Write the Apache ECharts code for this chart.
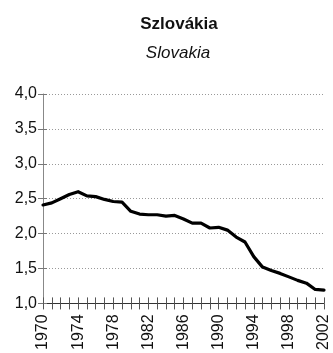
<!DOCTYPE html>
<html>
<head>
<meta charset="utf-8">
<script src="https://cdn.jsdelivr.net/npm/echarts@6/dist/echarts.min.js"></script>
<style>
  html, body { margin: 0; padding: 0; background: #fff; }
  #chart { width: 333px; height: 353px; }
</style>
</head>
<body>
<div id="chart"></div>
<script>
// Total fertility rate, Slovakia, 1970–2002
const years = [];
for (let y = 1970; y <= 2002; y++) years.push(String(y));

const fertility = [
  2.41, 2.44, 2.50, 2.56, 2.60, 2.54, 2.53, 2.49, 2.46, 2.45,
  2.32, 2.28, 2.27, 2.27, 2.25, 2.26, 2.21, 2.15, 2.15, 2.08,
  2.09, 2.05, 1.95, 1.88, 1.67, 1.52, 1.47, 1.43, 1.38, 1.33,
  1.29, 1.20, 1.19
];

const yTicks = [1.0, 1.5, 2.0, 2.5, 3.0, 3.5, 4.0];

const font = '"Liberation Sans", Arial, sans-serif';
const chart = echarts.init(document.getElementById('chart'), null, { renderer: 'canvas' });

const grid = { left: 43, right: 9, top: 94, bottom: 48 };

const yBase = {
  type: 'value',
  min: yTicks[0],
  max: yTicks[yTicks.length - 1],
  interval: 0.5
};

chart.setOption({
  animation: false,
  title: [
    {
      text: 'Szlovákia',
      left: 174, top: 11, textAlign: 'center',
      textStyle: { fontFamily: font, fontSize: 17, fontWeight: 'bold', color: '#111' }
    },
    {
      text: 'Slovakia',
      left: 173, top: 40, textAlign: 'center',
      textStyle: { fontFamily: font, fontSize: 17, fontStyle: 'italic', fontWeight: 'normal', color: '#111' }
    }
  ],
  grid: grid,
  xAxis: [
    {
      type: 'category',
      data: years,
      boundaryGap: false,
      axisLine: { lineStyle: { color: '#333', width: 1 } },
      axisTick: { show: true, length: 6, interval: 0, lineStyle: { color: '#555' } },
      axisLabel: {
        interval: 3, rotate: 90, margin: 11,
        fontFamily: font, fontSize: 16, color: '#111'
      },
      splitLine: { show: false }
    },
    {
      // upward half of the year ticks
      type: 'category',
      data: years,
      boundaryGap: false,
      position: 'bottom',
      offset: 0,
      axisLine: { show: false },
      axisTick: { show: true, inside: true, length: 6, interval: 0, lineStyle: { color: '#555' } },
      axisLabel: { show: false },
      splitLine: { show: false }
    }
  ],
  yAxis: [
    Object.assign({}, yBase, {
      axisLine: { show: true, lineStyle: { color: '#888' } },
      axisTick: { show: true, length: 5, lineStyle: { color: '#777' } },
      axisLabel: {
        margin: 6,
        fontFamily: font, fontSize: 16, color: '#111',
        formatter: v => v.toFixed(1).replace('.', ',')
      },
      splitLine: { show: true, lineStyle: { color: '#999', type: [1, 2], width: 1 } }
    }),
    Object.assign({}, yBase, {
      // right-hand half of the value ticks
      position: 'left',
      offset: 0,
      axisLine: { show: false },
      axisTick: { show: true, inside: true, length: 4, lineStyle: { color: '#777' } },
      axisLabel: { show: false },
      splitLine: { show: false }
    })
  ],
  series: [{
    type: 'line',
    data: fertility,
    showSymbol: false,
    lineStyle: { color: '#000', width: 3.2, join: 'round', cap: 'round' },
    z: 5
  }]
});
</script>
</body>
</html>
